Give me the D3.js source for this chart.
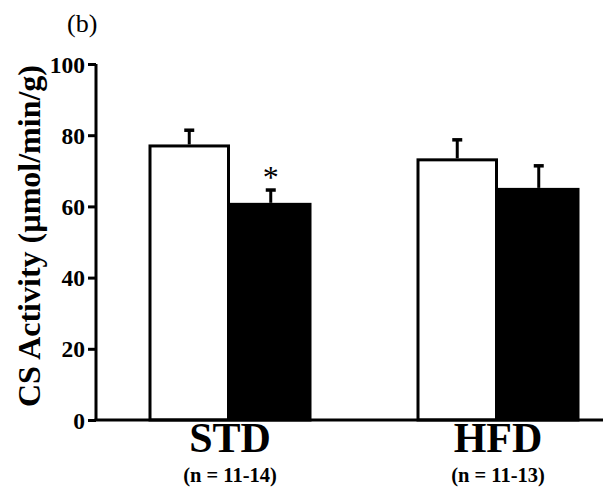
<!DOCTYPE html>
<html>
<head>
<meta charset="utf-8">
<script src="https://cdn.jsdelivr.net/npm/d3@7"></script>
<style>
  body { margin: 0; background: #fff; }
  svg { display: block; }
</style>
</head>
<body>
<svg id="chart"></svg>
<script>
// data
let groups = ["STD", "HFD"];
let groupNotes = ["(n = 11-14)", "(n = 11-13)"];
let series = ["control", "treated"];
let seriesFill = ["#ffffff", "#000000"];
let means = [[77.4, 61.0], [73.5, 65.2]];
let errors = [[4.0, 3.6], [5.2, 6.2]];
let stars = [["", "*"], ["", ""]];
let yTicks = [0, 20, 40, 60, 80, 100];

let W = 612, H = 490;
let axisX = 96, axisEnd = 603;
let yTop = 64, yBottom = 420;

let svg = d3.select('#chart')
            .attr('width', W)
            .attr('height', H)
            .style('font-family', '"Liberation Serif", "Times New Roman", serif');

let y = d3.scaleLinear().domain([0, 100]).range([yBottom, yTop]);

let x = d3.scalePoint().domain(groups).range([axisX, axisX + 536]).padding(0.5);

let xs = d3.scaleBand().domain(series).range([-81.5, 81.5]).padding(0);

// y axis
let yAxis = svg.append('g')
        .attr('transform', `translate(${axisX},0)`)
        .call(d3.axisLeft(y).tickValues(yTicks).tickSize(8).tickPadding(3).tickFormat(d3.format('d')));
yAxis.select('.domain').attr('stroke-width', 3).attr('d', `M0,${yTop}V${yBottom}`);
yAxis.selectAll('.tick line').attr('stroke-width', 3);
yAxis.selectAll('.tick text')
        .style('font-family', '"Liberation Serif", serif')
        .style('font-size', '23.5px')
        .style('font-weight', 'bold')
        .attr('dy', '0.34em');

// y label
svg.append('text')
    .attr('transform', `translate(40,236) rotate(-90)`)
    .attr('text-anchor', 'middle')
    .style('font-size', '32px')
    .style('font-weight', 'bold')
    .text('CS Activity (µmol/min/g)');

// panel label
svg.append('text')
    .attr('x', 67).attr('y', 32)
    .style('font-size', '26px')
    .text('(b)');

// bars
let grp = svg.selectAll('g.grp')
        .data(groups).enter()
        .append('g')
        .attr('class', 'grp')
        .attr('transform', d => `translate(${x(d)},0)`);

let bars = grp.selectAll('g.bar')
        .data((d, i) => series.map((s, j) => ({s: s, j: j, v: means[i][j], e: errors[i][j], star: stars[i][j]})))
        .enter().append('g')
        .attr('class', 'bar');

// error bars (upper only)
bars.append('line')
    .attr('x1', d => xs(d.s) + xs.bandwidth() / 2)
    .attr('x2', d => xs(d.s) + xs.bandwidth() / 2)
    .attr('y1', d => y(d.v))
    .attr('y2', d => y(d.v + d.e))
    .attr('stroke', '#000')
    .attr('stroke-width', 3);
bars.append('line')
    .attr('x1', d => xs(d.s) + xs.bandwidth() / 2 - 5)
    .attr('x2', d => xs(d.s) + xs.bandwidth() / 2 + 5)
    .attr('y1', d => y(d.v + d.e))
    .attr('y2', d => y(d.v + d.e))
    .attr('stroke', '#000')
    .attr('stroke-width', 3.5);

bars.append('rect')
    .attr('x', d => xs(d.s) + 1.5)
    .attr('width', xs.bandwidth() - 3)
    .attr('y', d => y(d.v) + 1.5)
    .attr('height', d => y(0) - y(d.v) - 1.5)
    .attr('fill', d => seriesFill[d.j])
    .attr('stroke', '#000')
    .attr('stroke-width', 3);

bars.append('text')
    .attr('x', d => xs(d.s) + xs.bandwidth() / 2)
    .attr('y', d => y(d.v + d.e) - 2)
    .attr('text-anchor', 'middle')
    .style('font-size', '32px')
    .text(d => d.star);

// x axis line
svg.append('line')
    .attr('x1', axisX - 1.5).attr('x2', axisEnd)
    .attr('y1', y(0)).attr('y2', y(0))
    .attr('stroke', '#000')
    .attr('stroke-width', 3);

// group labels
grp.append('text')
    .attr('y', 452)
    .attr('text-anchor', 'middle')
    .style('font-size', '42px')
    .style('font-weight', 'bold')
    .text(d => d);

grp.append('text')
    .attr('y', 482)
    .attr('text-anchor', 'middle')
    .style('font-size', '20.5px')
    .style('font-weight', 'bold')
    .text((d, i) => groupNotes[i]);
</script>
</body>
</html>
